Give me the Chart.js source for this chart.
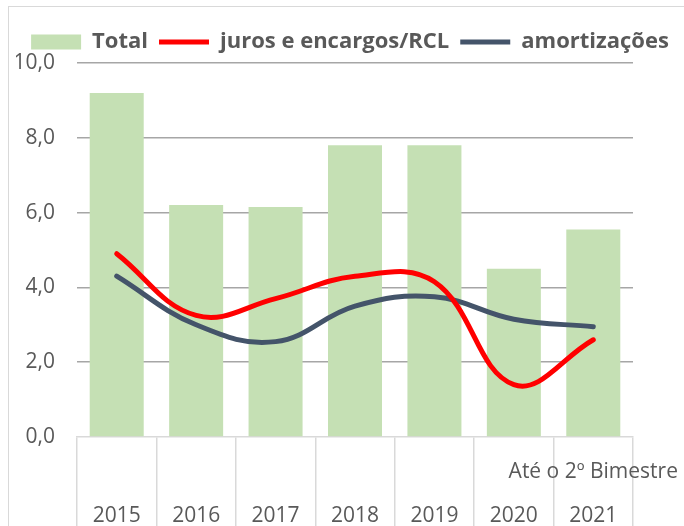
<!DOCTYPE html>
<html>
<head>
<meta charset="utf-8">
<script src="https://cdn.jsdelivr.net/npm/chart.js@4"></script>
<style>
  html, body { margin: 0; padding: 0; background: #fff; }
  #wrap { position: relative; width: 684px; height: 526px; overflow: hidden; }
  #frame { position: absolute; left: 8px; top: 6px; width: 700px; height: 600px;
           border-left: 1px solid #d9d9d9; border-top: 1px solid #d9d9d9; }
  canvas { position: absolute; left: 0; top: 0; }
</style>
</head>
<body>
<div id="wrap">
  <div id="frame"></div>
  <canvas id="grafico" width="684" height="526"></canvas>
</div>
<script>
// dados
const anos = ['2015', '2016', '2017', '2018', '2019', '2020', '2021'];
const subtitulos = ['', '', '', '', '', '', 'Até o 2º Bimestre'];
const total = [9.2, 6.2, 6.15, 7.8, 7.8, 4.5, 5.55];
const juros = [4.9, 3.25, 3.7, 4.3, 4.15, 1.4, 2.6];
const amortizacoes = [4.3, 3.0, 2.55, 3.5, 3.75, 3.15, 2.95];
const yTicks = [0, 2, 4, 6, 8, 10];
const ordemLegenda = ['Total', 'juros e encargos/RCL', 'amortizações'];

const cinza = '#595959';
const fonte = "'Open Sans', sans-serif";

new Chart(document.getElementById('grafico'), {
  type: 'bar',
  data: {
    labels: anos.map((a, i) => [subtitulos[i], a]),
    datasets: [
      {
        type: 'line',
        label: 'juros e encargos/RCL',
        data: juros,
        borderColor: '#ff0000',
        backgroundColor: '#ff0000',
        borderWidth: 5,
        borderCapStyle: 'round',
        pointRadius: 0,
        pointStyle: 'line',
        tension: 0.4,
        order: 1
      },
      {
        type: 'line',
        label: 'amortizações',
        data: amortizacoes,
        borderColor: '#44546a',
        backgroundColor: '#44546a',
        borderWidth: 5,
        borderCapStyle: 'round',
        pointRadius: 0,
        pointStyle: 'line',
        tension: 0.4,
        order: 2
      },
      {
        label: 'Total',
        data: total,
        backgroundColor: '#c5e0b4',
        pointStyle: 'rect',
        barPercentage: 0.68,
        categoryPercentage: 1,
        order: 3
      }
    ]
  },
  options: {
    responsive: false,
    animation: false,
    layout: { padding: { top: 20, right: 0, left: 16, bottom: 0 } },
    plugins: {
      tooltip: { enabled: false },
      legend: {
        position: 'top',
        labels: {
          usePointStyle: true,
          pointStyleWidth: 50,
          boxHeight: 15,
          padding: 11,
          color: cinza,
          font: { family: fonte, size: 22, weight: 'bold' },
          sort: (a, b) => ordemLegenda.indexOf(a.text) - ordemLegenda.indexOf(b.text)
        }
      }
    },
    scales: {
      x: {
        afterFit: s => { s.height = 89; },
        grid: {
          offset: true,
          drawOnChartArea: false,
          drawTicks: true,
          tickLength: 89,
          color: '#d9d9d9',
          lineWidth: 1.5
        },
        border: { color: '#d9d9d9', width: 1.5 },
        ticks: {
          autoSkip: false,
          maxRotation: 0,
          minRotation: 0,
          padding: -76,
          color: cinza,
          font: { family: fonte, size: 21, lineHeight: 2.1 }
        }
      },
      y: {
        min: 0,
        max: 10,
        afterFit: s => { s.width = 61; },
        afterBuildTicks: s => { s.ticks = yTicks.map(v => ({ value: v })); },
        border: { display: false },
        grid: {
          drawTicks: false,
          color: c => c.tick && c.tick.value === 0 ? 'rgba(0,0,0,0)' : '#a6a6a6',
          lineWidth: 1.5
        },
        ticks: {
          padding: 22,
          color: cinza,
          font: { family: fonte, size: 21 },
          callback: v => v.toFixed(1).replace('.', ',')
        }
      },
      margem: {
        position: 'right',
        min: 0,
        max: 10,
        afterFit: s => { s.width = 51; },
        border: { display: false },
        grid: { display: false },
        ticks: { display: false }
      }
    }
  }
});
</script>
</body>
</html>
